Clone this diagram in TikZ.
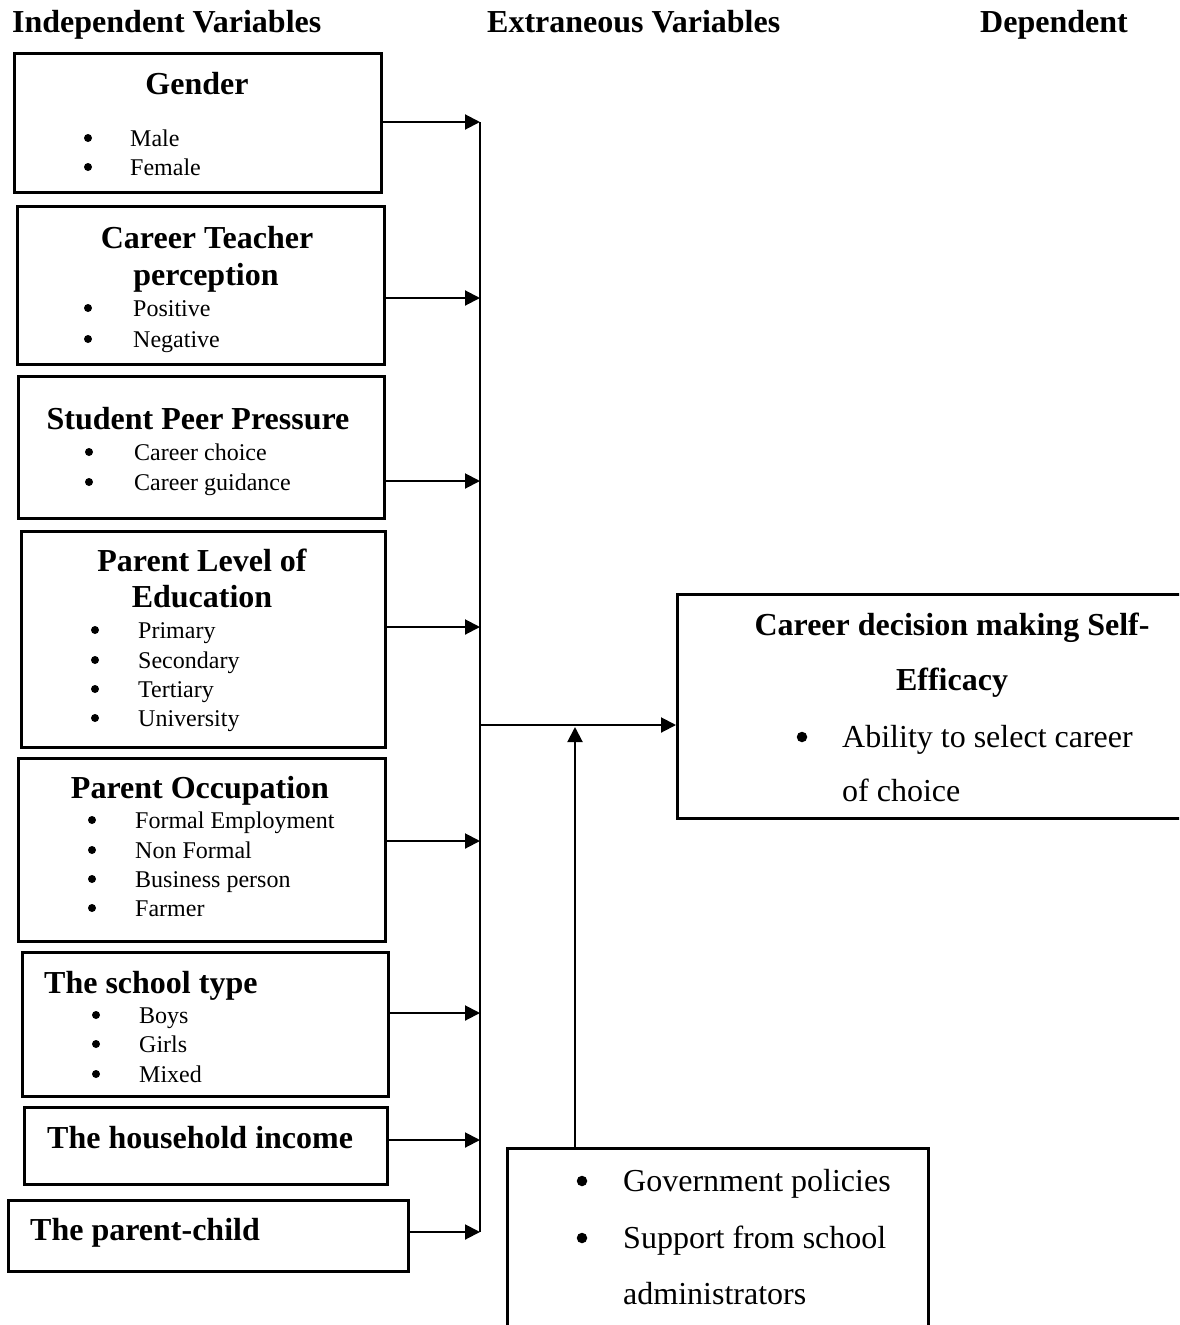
\documentclass[tikz,border=0pt]{standalone}
\usepackage{fontspec}
\setmainfont{Liberation Serif}
\usetikzlibrary{arrows.meta}
\tikzstyle{box}=[draw, line width=2.5pt, inner sep=0pt, anchor=north west]
\tikzstyle{head}=[inner sep=0pt, anchor=base, font=\bfseries\fontsize{32}{38}\selectfont]
\tikzstyle{item}=[inner sep=0pt, anchor=base west, font=\fontsize{24}{28}\selectfont]
\tikzstyle{bigitem}=[inner sep=0pt, anchor=base west, font=\fontsize{32}{38}\selectfont]
\tikzstyle{dot}=[circle, fill, inner sep=0pt, minimum size=8pt]
\tikzstyle{bigdot}=[circle, fill, inner sep=0pt, minimum size=10.5pt]
\tikzstyle{arrow}=[line width=2pt, -{Triangle[length=15pt, width=15pt]}]

\begin{document}
\begin{tikzpicture}[x=1pt, y=-1pt]
    \clip (0,0) rectangle (1179,1325);
    % headings
    \node (hi) [head, anchor=base west] at (12,32)  {Independent Variables};
    \node (hx) [head, anchor=base west] at (487,32) {Extraneous Variables};
    \node (hd) [head, anchor=base west] at (980,32) {Dependent};

    % independent variables
    \node (g) [box, minimum width=367pt, minimum height=139pt] at (13,52) {};
    \node (gt) [head] at (197,94) {Gender};
    \foreach \t/\y in {Male/146, Female/175} {
        \node (gb\y) [dot] at (88,{\y-8}) {};
        \node (gi\y) [item] at (130,\y) {\t};
    }

    \node (t) [box, minimum width=367pt, minimum height=158pt] at (16,205) {};
    \node (tt) [head] at (207,248) {Career Teacher};
    \node (tu) [head] at (206,285) {perception};
    \foreach \t/\y in {Positive/316, Negative/347} {
        \node (tb\y) [dot] at (88,{\y-8}) {};
        \node (ti\y) [item] at (133,\y) {\t};
    }

    \node (p) [box, minimum width=366pt, minimum height=142pt] at (17,375) {};
    \node (pt) [head] at (198,429) {Student Peer Pressure};
    \foreach \t/\y in {Career choice/460, Career guidance/490} {
        \node (pb\y) [dot] at (89,{\y-8}) {};
        \node (pi\y) [item] at (134,\y) {\t};
    }

    \node (e) [box, minimum width=364pt, minimum height=216pt] at (20,530) {};
    \node (et) [head] at (202,571) {Parent Level of};
    \node (eu) [head] at (202,607) {Education};
    \foreach \t/\y in {Primary/638, Secondary/668, Tertiary/697, University/726} {
        \node (eb\y) [dot] at (95,{\y-8}) {};
        \node (ei\y) [item] at (138,\y) {\t};
    }

    \node (o) [box, minimum width=367pt, minimum height=183pt] at (17,757) {};
    \node (ot) [head] at (200,798) {Parent Occupation};
    \foreach \t/\y in {Formal Employment/828, Non Formal/858, Business person/887, Farmer/916} {
        \node (ob\y) [dot] at (92,{\y-8}) {};
        \node (oi\y) [item] at (135,\y) {\t};
    }

    \node (s) [box, minimum width=366pt, minimum height=144pt] at (21,951) {};
    \node (st) [head, anchor=base west] at (44,993) {The school type};
    \foreach \t/\y in {Boys/1023, Girls/1052, Mixed/1082} {
        \node (sb\y) [dot] at (96,{\y-8}) {};
        \node (si\y) [item] at (139,\y) {\t};
    }

    \node (h) [box, minimum width=363pt, minimum height=77pt] at (23,1106) {};
    \node (ht) [head, anchor=base west] at (47,1148) {The household income};

    \node (c) [box, minimum width=400pt, minimum height=71pt] at (7,1199) {};
    \node (ct) [head, anchor=base west] at (30,1240) {The parent-child};

    % dependent variable
    \node (dv) [box, minimum width=560pt, minimum height=224pt] at (676,593) {};
    \node (dt) [head] at (952,635) {Career decision making Self-};
    \node (du) [head] at (952,690) {Efficacy};
    \node (db) [bigdot] at (802,737) {};
    \node (di) [bigitem] at (842,747) {Ability to select career};
    \node (dj) [bigitem] at (842,801) {of choice};

    % extraneous variables
    \node (ex) [box, minimum width=421pt, minimum height=220pt] at (506,1147) {};
    \node (xb1) [bigdot] at (582,1181) {};
    \node (xi1) [bigitem] at (623,1191) {Government policies};
    \node (xb2) [bigdot] at (582,1238) {};
    \node (xi2) [bigitem] at (623,1248) {Support from school};
    \node (xi3) [bigitem] at (623,1304) {administrators};

    % connectors
    \coordinate (ag) at (480,122);
    \coordinate (at) at (480,298);
    \coordinate (ap) at (480,481);
    \coordinate (ae) at (480,627);
    \coordinate (ao) at (480,841);
    \coordinate (as) at (480,1013);
    \coordinate (ah) at (480,1140);
    \coordinate (ac) at (480,1232);
    \coordinate (m)  at (480,725);
    \coordinate (j)  at (575,727);
    \draw [line width=2pt] (ag) -- (ac);
    \draw [arrow] (ag -| g.east) -- (ag);
    \draw [arrow] (at -| t.east) -- (at);
    \draw [arrow] (ap -| p.east) -- (ap);
    \draw [arrow] (ae -| e.east) -- (ae);
    \draw [arrow] (ao -| o.east) -- (ao);
    \draw [arrow] (as -| s.east) -- (as);
    \draw [arrow] (ah -| h.east) -- (ah);
    \draw [arrow] (ac -| c.east) -- (ac);
    \draw [arrow] (m) -- (m -| dv.west);
    \draw [arrow] (j |- ex.north) -- (j);
\end{tikzpicture}
\end{document}
